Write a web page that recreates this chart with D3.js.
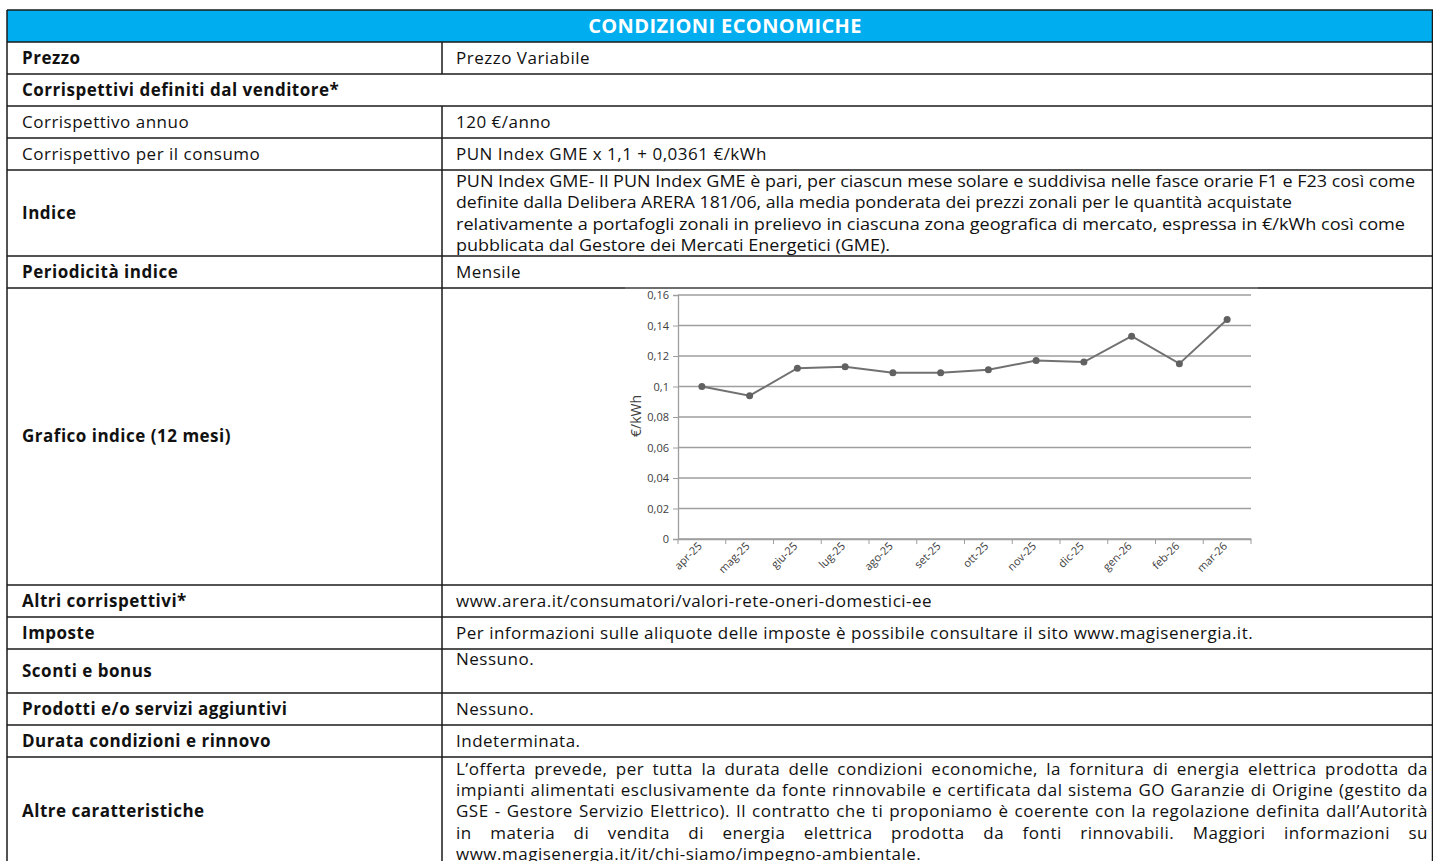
<!DOCTYPE html>
<html>
<head>
<meta charset="utf-8">
<script src="https://cdn.jsdelivr.net/npm/d3@7"></script>
<style>
  body { margin: 0; background: #fff; }
  svg { display: block; font-family: "Open Sans", sans-serif; }
  .cell { font-size: 17px; letter-spacing: 0.5px; fill: #111; }
</style>
</head>
<body>
<div id="page"></div>
<script>
// Chart data: PUN Index GME, last 12 months (€/kWh)
const months = ["apr-25", "mag-25", "giu-25", "lug-25", "ago-25", "set-25",
                "ott-25", "nov-25", "dic-25", "gen-26", "feb-26", "mar-26"];
const punIndex = [0.100, 0.094, 0.112, 0.113, 0.109, 0.109,
                  0.111, 0.117, 0.116, 0.133, 0.115, 0.144];
const yTicks = [0, 0.02, 0.04, 0.06, 0.08, 0.1, 0.12, 0.14, 0.16];
const yTickLabels = ["0", "0,02", "0,04", "0,06", "0,08", "0,1", "0,12", "0,14", "0,16"];
const yAxisTitle = "€/kWh";

// Table content
const tableTitle = "CONDIZIONI ECONOMICHE";
const rowLabels = [
    "Prezzo",
    "Corrispettivi definiti dal venditore*",
    "Corrispettivo annuo",
    "Corrispettivo per il consumo",
    "Indice",
    "Periodicità indice",
    "Grafico indice (12 mesi)",
    "Altri corrispettivi*",
    "Imposte",
    "Sconti e bonus",
    "Prodotti e/o servizi aggiuntivi",
    "Durata condizioni e rinnovo",
    "Altre caratteristiche"
];
const boldLabels = [true, true, false, false, true, true, true, true, true, true, true, true, true];
const rowValues = [
    ["Prezzo Variabile"],
    null,
    ["120 €/anno"],
    ["PUN Index GME x 1,1 + 0,0361 €/kWh"],
    ["PUN Index GME- Il PUN Index GME è pari, per ciascun mese solare e suddivisa nelle fasce orarie F1 e F23 così come",
     "definite dalla Delibera ARERA 181/06, alla media ponderata dei prezzi zonali per le quantità acquistate",
     "relativamente a portafogli zonali in prelievo in ciascuna zona geografica di mercato, espressa in €/kWh così come",
     "pubblicata dal Gestore dei Mercati Energetici (GME)."],
    ["Mensile"],
    "chart",
    ["www.arera.it/consumatori/valori-rete-oneri-domestici-ee"],
    ["Per informazioni sulle aliquote delle imposte è possibile consultare il sito www.magisenergia.it."],
    ["Nessuno."],
    ["Nessuno."],
    ["Indeterminata."],
    ["L’offerta prevede, per tutta la durata delle condizioni economiche, la fornitura di energia elettrica prodotta da",
     "impianti alimentati esclusivamente da fonte rinnovabile e certificata dal sistema GO Garanzie di Origine (gestito da",
     "GSE - Gestore Servizio Elettrico). Il contratto che ti proponiamo è coerente con la regolazione definita dall’Autorità",
     "in materia di vendita di energia elettrica prodotta da fonti rinnovabili. Maggiori informazioni su",
     "www.magisenergia.it/it/chi-siamo/impegno-ambientale."]
];

// ---- layout ----
const width = 1433, height = 861;
const left = 7, right = 1433, divX = 442;
const headTop = 10, headBottom = 42;
const rowEdges = [42, 74, 106, 138, 170, 256, 288, 585, 617, 649, 693, 725, 757, 866];
const lineStep = 21.3;

const svg = d3.select("#page").append("svg")
    .attr("width", width)
    .attr("height", height);

// header band
svg.append("rect")
    .attr("x", left).attr("y", headTop)
    .attr("width", right - left).attr("height", headBottom - headTop)
    .attr("fill", "#00aeef");

svg.append("text")
    .attr("x", 725).attr("y", (headTop + headBottom) / 2)
    .attr("dy", "0.35em")
    .attr("text-anchor", "middle")
    .attr("fill", "#fff")
    .style("font-size", "20px")
    .style("letter-spacing", "0.4px")
    .style("font-weight", "bold")
    .text(tableTitle);

// justify one line of text across a given width
function justifyLine(g, str, x, y, w) {
    const words = str.split(" ");
    const nodes = words.map(wd => g.append("text")
        .attr("class", "cell")
        .attr("y", y).attr("dy", "0.35em")
        .text(wd));
    const widths = nodes.map(n => n.node().getComputedTextLength());
    const gap = (w - d3.sum(widths)) / (words.length - 1);
    let cx = x;
    nodes.forEach((n, i) => { n.attr("x", cx); cx += widths[i] + gap; });
}

const cells = svg.append("g");

rowLabels.forEach((label, i) => {
    const top = rowEdges[i], bottom = rowEdges[i + 1];
    const mid = (top + bottom) / 2;

    cells.append("text")
        .attr("class", "cell")
        .attr("x", 22).attr("y", mid).attr("dy", "0.35em")
        .style("font-weight", boldLabels[i] ? "bold" : "normal")
        .text(label);

    const val = rowValues[i];
    if (!Array.isArray(val)) return;

    if (label === "Indice") {
        // condensed paragraph
        const fits = [959, 836, 949, 434];
        val.forEach((ln, k) => {
            cells.append("text")
                .attr("class", "cell")
                .attr("x", 456).attr("y", mid + (k - (val.length - 1) / 2) * lineStep)
                .attr("dy", "0.35em")
                .attr("textLength", fits[k])
                .attr("lengthAdjust", "spacingAndGlyphs")
                .style("letter-spacing", "0px")
                .text(ln);
        });
    } else if (label === "Altre caratteristiche") {
        val.forEach((ln, k) => {
            const y = mid + (k - 2) * 21.25;
            if (k < val.length - 1) {
                justifyLine(cells, ln, 456, y, 972);
            } else {
                cells.append("text")
                    .attr("class", "cell")
                    .attr("x", 456).attr("y", y).attr("dy", "0.35em")
                    .text(ln);
            }
        });
    } else {
        const y = label === "Sconti e bonus" ? top + 10 : mid;
        cells.append("text")
            .attr("class", "cell")
            .attr("x", 456).attr("y", y).attr("dy", "0.35em")
            .text(val[0]);
    }
});

// ---- chart inside "Grafico indice" row ----
const chartRow = 6;
const chart = svg.append("g");

chart.append("rect")
    .attr("x", 625).attr("y", rowEdges[chartRow])
    .attr("width", 633).attr("height", rowEdges[chartRow + 1] - rowEdges[chartRow])
    .attr("fill", "#fff");

const plot = {left: 678, right: 1251, top: 295, bottom: 539};

const x = d3.scaleBand()
    .domain(months)
    .range([plot.left, plot.right]);

const y = d3.scaleLinear()
    .domain([0, 0.16])
    .range([plot.bottom, plot.top]);

// gridlines
chart.append("g")
    .selectAll("line")
    .data(yTicks)
    .join("line")
    .attr("x1", plot.left).attr("x2", plot.right)
    .attr("y1", d => y(d)).attr("y2", d => y(d))
    .attr("stroke", "#9e9e9e")
    .attr("stroke-width", 1.3);

// y axis
const yAxis = chart.append("g")
    .attr("transform", `translate(${plot.left},0)`)
    .call(d3.axisLeft(y).tickValues(yTicks).tickFormat((d, i) => yTickLabels[i]).tickSize(5).tickPadding(4));
yAxis.select(".domain").attr("stroke", "#9e9e9e").attr("stroke-width", 1.3);
yAxis.selectAll(".tick line").attr("stroke", "#9e9e9e");
yAxis.selectAll(".tick text")
    .attr("fill", "#404040")
    .style("font-family", "'Open Sans', sans-serif")
    .style("font-size", "11px");

// x axis
const xAxis = chart.append("g")
    .attr("transform", `translate(0,${plot.bottom})`)
    .call(d3.axisBottom(x).tickSize(0).tickPadding(0));
xAxis.select(".domain").attr("stroke", "#9e9e9e").attr("stroke-width", 1.3);
xAxis.selectAll(".tick text")
    .attr("fill", "#404040")
    .style("font-family", "'Open Sans', sans-serif")
    .style("font-size", "11px")
    .attr("text-anchor", "end")
    .attr("x", 0).attr("y", 0)
    .attr("dy", "0.35em")
    .attr("transform", "translate(-2,5) rotate(-45)");

// tick marks between categories
chart.append("g")
    .selectAll("line")
    .data(months.concat([null]))
    .join("line")
    .attr("x1", (d, i) => plot.left + i * x.step())
    .attr("x2", (d, i) => plot.left + i * x.step())
    .attr("y1", plot.bottom).attr("y2", plot.bottom + 5)
    .attr("stroke", "#9e9e9e");

// axis title
chart.append("text")
    .attr("transform", `translate(636,${(plot.top + plot.bottom) / 2 - 1}) rotate(-90)`)
    .attr("text-anchor", "middle")
    .attr("dy", "0.35em")
    .attr("fill", "#404040")
    .style("font-size", "14px")
    .text(yAxisTitle);

const line = d3.line()
    .x((d, i) => x(months[i]) + x.bandwidth() / 2)
    .y(d => y(d));

chart.append("path")
    .datum(punIndex)
    .attr("fill", "none")
    .attr("stroke", "#717171")
    .attr("stroke-width", 2)
    .attr("d", line);

chart.append("g")
    .selectAll("circle")
    .data(punIndex)
    .join("circle")
    .attr("cx", (d, i) => x(months[i]) + x.bandwidth() / 2)
    .attr("cy", d => y(d))
    .attr("r", 3.5)
    .attr("fill", "#616161");

// ---- table borders ----
const borders = svg.append("g")
    .attr("stroke", "#1a1a1a")
    .attr("stroke-width", 1.5)
    .attr("fill", "none");

borders.append("line")
    .attr("x1", left).attr("x2", right).attr("y1", headTop).attr("y2", headTop);
[headBottom].concat(rowEdges.slice(1, -1)).forEach(yy => {
    borders.append("line")
        .attr("x1", left).attr("x2", right).attr("y1", yy).attr("y2", yy);
});
borders.append("line")
    .attr("x1", left).attr("x2", left).attr("y1", headTop).attr("y2", height);
borders.append("line")
    .attr("x1", right - 0.5).attr("x2", right - 0.5).attr("y1", headTop).attr("y2", height);

// column divider, skipped on the full-width row
rowEdges.slice(0, -1).forEach((top, i) => {
    if (rowValues[i] === null) return;
    borders.append("line")
        .attr("x1", divX).attr("x2", divX)
        .attr("y1", top).attr("y2", rowEdges[i + 1]);
});

// chart picture edge sits on top of the row line
svg.append("line")
    .attr("x1", 625).attr("x2", 1258)
    .attr("y1", rowEdges[chartRow]).attr("y2", rowEdges[chartRow])
    .attr("stroke", "#8a8a8a").attr("stroke-width", 1.2);
</script>
</body>
</html>
